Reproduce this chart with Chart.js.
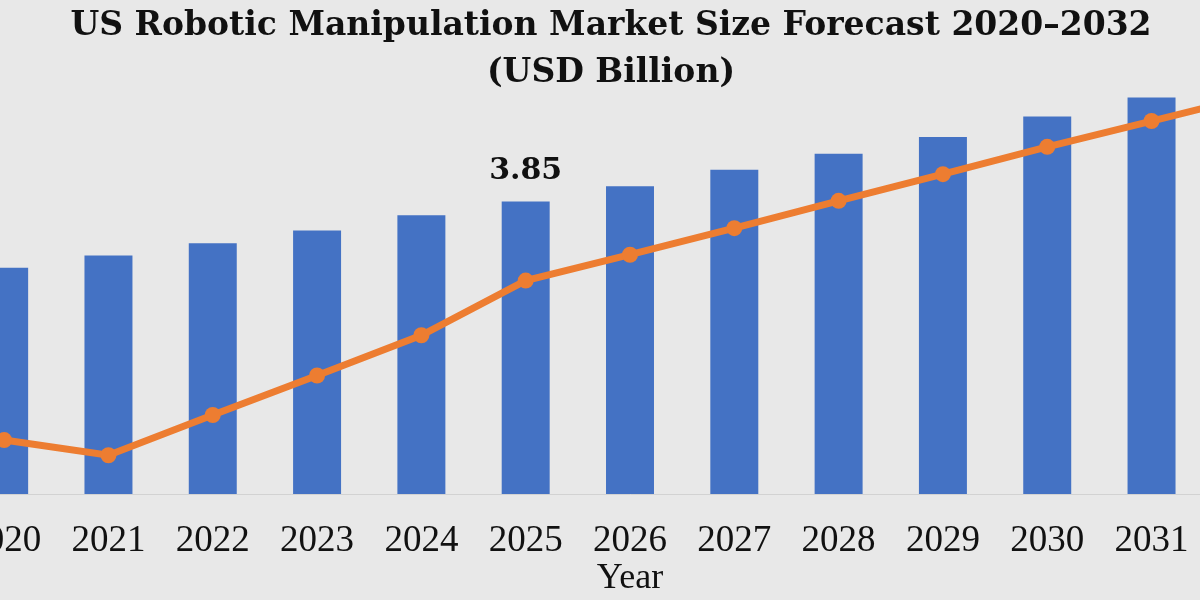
<!DOCTYPE html>
<html>
<head>
<meta charset="utf-8">
<script src="https://cdn.jsdelivr.net/npm/chart.js@4"></script>
<style>
  html, body { margin: 0; padding: 0; background: #e8e8e8; overflow: hidden; }
  #wrap { position: absolute; left: -94px; top: 0; width: 1410px; height: 600px; }
</style>
</head>
<body>
<div id="wrap"><canvas id="marketChart"></canvas></div>
<script>
// Market data (USD Billion)
var years = ['2020', '2021', '2022', '2023', '2024', '2025', '2026', '2027', '2028', '2029', '2030', '2031', '2032'];
var marketSize = [2.98, 3.14, 3.30, 3.47, 3.67, 3.85, 4.05, 4.27, 4.48, 4.70, 4.97, 5.22, 5.48];
var trendLine = [0.71, 0.51, 1.04, 1.56, 2.09, 2.81, 3.15, 3.50, 3.86, 4.21, 4.57, 4.91, 5.25];
var labelIndex = 5; // only 2025 gets a value label

var serif = "'Liberation Serif', 'DejaVu Serif', serif";
var boldSerif = "'DejaVu Serif', serif";

// Value label above one bar
var valueLabel = {
  id: 'valueLabel',
  afterDatasetsDraw: function (chart) {
    var bar = chart.getDatasetMeta(1).data[labelIndex];
    var ctx = chart.ctx;
    ctx.save();
    ctx.font = 'bold 30px ' + boldSerif;
    ctx.fillStyle = '#111';
    ctx.textAlign = 'center';
    ctx.textBaseline = 'alphabetic';
    ctx.fillText(marketSize[labelIndex].toFixed(2), bar.x, bar.y - 23);
    ctx.restore();
  }
};

var yMax = 5.23;

var ctx = document.getElementById('marketChart').getContext('2d');
var chart = new Chart(ctx, {
  type: 'bar',
  data: {
    labels: years,
    datasets: [
      {
        type: 'line',
        label: 'Trend',
        data: trendLine,
        yAxisID: 'y1',
        borderColor: '#ed7d31',
        backgroundColor: '#ed7d31',
        borderWidth: 7,
        pointRadius: 8,
        pointBackgroundColor: '#ed7d31',
        pointBorderWidth: 0,
        tension: 0,
        order: 0
      },
      {
        label: 'Market Size',
        data: marketSize,
        backgroundColor: '#4472c4',
        barPercentage: 0.46,
        categoryPercentage: 1.0,
        order: 1
      }
    ]
  },
  options: {
    responsive: true,
    maintainAspectRatio: false,
    animation: false,
    layout: { padding: 0 },
    plugins: {
      legend: { display: false },
      tooltip: { enabled: false },
      title: {
        display: true,
        text: ['US Robotic Manipulation Market Size Forecast 2020\u20132032', '(USD Billion)'],
        color: '#111',
        font: { family: boldSerif, size: 33, weight: 'bold', lineHeight: 1.42 },
        padding: { top: 3, bottom: 0 }
      }
    },
    scales: {
      x: {
        grid: { display: false },
        border: { display: true, color: '#d2d2d2', width: 1 },
        ticks: {
          color: '#111',
          font: { family: serif, size: 37 },
          padding: 17,
          maxRotation: 0,
          autoSkip: false
        },
        title: {
          display: true,
          text: 'Year',
          color: '#111',
          font: { family: serif, size: 36 },
          padding: { top: 0, bottom: 0 }
        },
        afterFit: function (scale) { scale.height = 106; }
      },
      y: {
        position: 'left',
        min: 0,
        max: yMax,
        grid: { display: false },
        border: { display: false },
        ticks: { display: false },
        afterFit: function (scale) { scale.width = 46; }
      },
      y1: {
        display: false,
        min: 0,
        max: yMax
      }
    }
  },
  plugins: [valueLabel]
});
</script>
</body>
</html>
